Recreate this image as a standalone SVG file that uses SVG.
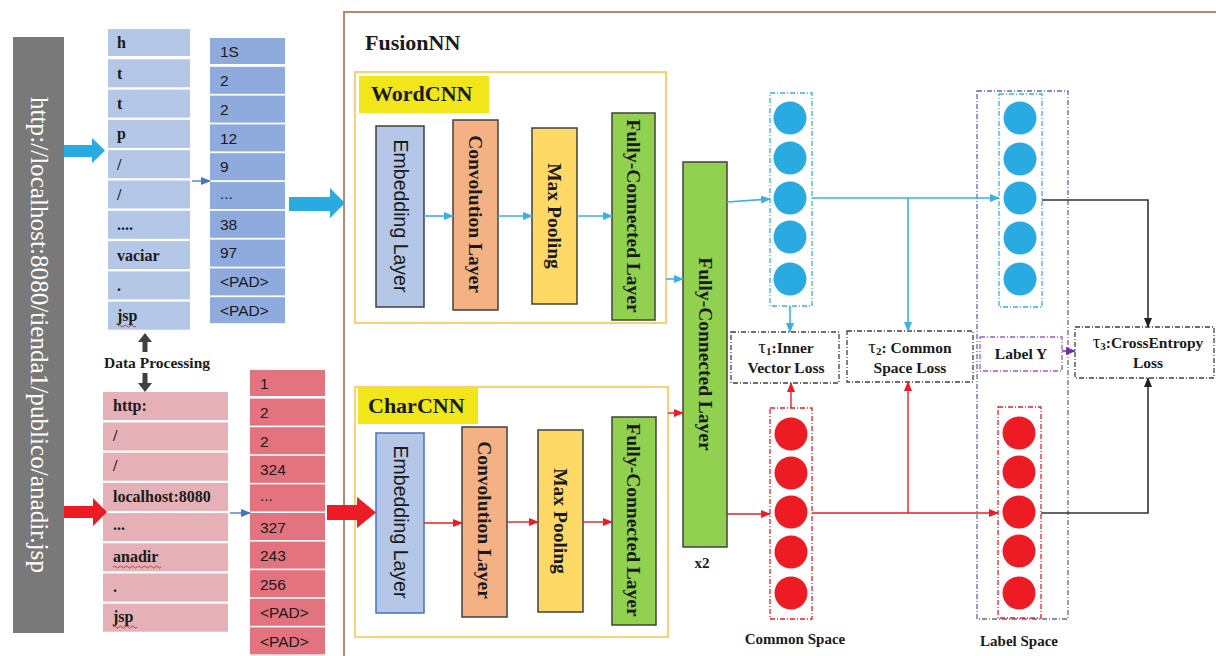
<svg xmlns="http://www.w3.org/2000/svg" width="1216" height="656" viewBox="0 0 1216 656">
<style>
.ser{font-family:"Liberation Serif","Times New Roman",serif;font-weight:bold;fill:#1a1a1a}
.san{font-family:"Liberation Sans",Arial,sans-serif;fill:#1a1a1a}
.tok{font-size:16px}
.num{font-size:15.5px}
.lay{font-size:19.5px}
.tb{fill:#b4c7e7}
.nb{fill:#8faadc}
.tp{fill:#e5b0b6}
.np{fill:#e2737f}
.layer{stroke:#404040;stroke-width:1.5}
.dd{fill:none;stroke-dasharray:5 2 1 2;stroke-width:1.3}
.loss{font-size:15.5px}
.tau{font-size:19px;font-weight:normal}
.lb{stroke:#3cb0e4;stroke-width:1.6;fill:none}
.lr{stroke:#ed1c24;stroke-width:1.4;fill:none}
.lk{stroke:#333;stroke-width:1.6;fill:none}
.sq{stroke:#e02020;stroke-width:0.9;fill:none}
</style>
<defs>
<marker id="ab" markerWidth="10" markerHeight="8" refX="9" refY="4" orient="auto" markerUnits="userSpaceOnUse"><path d="M0,0 L10,4 L0,8 z" fill="#3cb0e4"/></marker>
<marker id="ar" markerWidth="10" markerHeight="8" refX="9" refY="4" orient="auto" markerUnits="userSpaceOnUse"><path d="M0,0 L10,4 L0,8 z" fill="#ed1c24"/></marker>
<marker id="ak" markerWidth="10" markerHeight="8" refX="9" refY="4" orient="auto" markerUnits="userSpaceOnUse"><path d="M0,0 L10,4 L0,8 z" fill="#222"/></marker>
<marker id="ap" markerWidth="10" markerHeight="8" refX="9" refY="4" orient="auto" markerUnits="userSpaceOnUse"><path d="M0,0 L10,4 L0,8 z" fill="#7030a0"/></marker>
<marker id="ad" markerWidth="10" markerHeight="8" refX="9" refY="4" orient="auto" markerUnits="userSpaceOnUse"><path d="M0,0 L10,4 L0,8 z" fill="#4472c4"/></marker>
</defs>

<!-- URL bar -->
<g id="url">
<rect x="13" y="37" width="51" height="596" fill="#797979"/>
<text transform="translate(31,335) rotate(90)" text-anchor="middle" font-family="Liberation Serif,serif" font-size="25" fill="#ffffff" textLength="476" lengthAdjust="spacingAndGlyphs">http://localhost:8080/tienda1/publico/anadir.jsp</text>
</g>

<!-- FusionNN frame -->
<g id="fusion">
<path d="M344,656 L344,12 L1216,12" fill="none" stroke="#b88a76" stroke-width="2"/>
<text class="ser" x="365" y="50" font-size="22">FusionNN</text>
</g>

<!-- Word tokens -->
<g id="word-tokens">
<rect class="tb" x="108" y="29" width="82" height="27"/>
<rect class="tb" x="108" y="59.3" width="82" height="28"/>
<rect class="tb" x="108" y="89.6" width="82" height="28"/>
<rect class="tb" x="108" y="119.9" width="82" height="28"/>
<rect class="tb" x="108" y="150.2" width="82" height="28"/>
<rect class="tb" x="108" y="180.5" width="82" height="28"/>
<rect class="tb" x="108" y="210.8" width="82" height="28"/>
<rect class="tb" x="108" y="241.1" width="82" height="28"/>
<rect class="tb" x="108" y="271.4" width="82" height="28"/>
<rect class="tb" x="108" y="301.7" width="82" height="28"/>
<g class="ser tok">
<text x="117" y="48">h</text>
<text x="117" y="79">t</text>
<text x="117" y="109">t</text>
<text x="117" y="139">p</text>
<text x="117" y="170">/</text>
<text x="117" y="200">/</text>
<text x="117" y="230">....</text>
<text x="117" y="261">vaciar</text>
<text x="117" y="291">.</text>
<text x="117" y="321">jsp</text>
</g>
<path class="sq" d="M118,326 q1.5,-2 3,0 t3,0 t3,0 t3,0 t3,0 t3,0"/>
</g>

<!-- Word numbers -->
<g id="word-ids">
<rect class="nb" x="210" y="38" width="75" height="26"/>
<rect class="nb" x="210" y="66.8" width="75" height="27"/>
<rect class="nb" x="210" y="95.6" width="75" height="27"/>
<rect class="nb" x="210" y="124.4" width="75" height="27"/>
<rect class="nb" x="210" y="153.2" width="75" height="27"/>
<rect class="nb" x="210" y="182" width="75" height="27"/>
<rect class="nb" x="210" y="210.8" width="75" height="27"/>
<rect class="nb" x="210" y="239.6" width="75" height="27"/>
<rect class="nb" x="210" y="268.4" width="75" height="27"/>
<rect class="nb" x="210" y="297.2" width="75" height="26"/>
<g class="san num">
<text x="220" y="57">1S</text>
<text x="220" y="86">2</text>
<text x="220" y="115">2</text>
<text x="220" y="144">12</text>
<text x="220" y="172">9</text>
<text x="220" y="199">...</text>
<text x="220" y="230">38</text>
<text x="220" y="258">97</text>
<text x="220" y="287">&lt;PAD&gt;</text>
<text x="220" y="316">&lt;PAD&gt;</text>
</g>
</g>

<!-- Char tokens -->
<g id="char-tokens">
<rect class="tp" x="103" y="392" width="125" height="28"/>
<rect class="tp" x="103" y="422.5" width="125" height="28"/>
<rect class="tp" x="103" y="452.7" width="125" height="28"/>
<rect class="tp" x="103" y="482.9" width="125" height="28"/>
<rect class="tp" x="103" y="513.1" width="125" height="28"/>
<rect class="tp" x="103" y="543.3" width="125" height="28"/>
<rect class="tp" x="103" y="573.5" width="125" height="28"/>
<rect class="tp" x="103" y="603.7" width="125" height="28"/>
<g class="ser tok">
<text x="113" y="411">http:</text>
<text x="113" y="441">/</text>
<text x="113" y="471">/</text>
<text x="113" y="502">localhost:8080</text>
<text x="113" y="530">...</text>
<text x="113" y="562">anadir</text>
<text x="113" y="592">.</text>
<text x="113" y="622">jsp</text>
</g>
<path class="sq" d="M113,567 q1.5,-2 3,0 t3,0 t3,0 t3,0 t3,0 t3,0 t3,0 t3,0 t3,0 t3,0 t3,0 t3,0 t3,0 t3,0 t3,0 t3,0"/>
<path class="sq" d="M113,627 q1.5,-2 3,0 t3,0 t3,0 t3,0 t3,0 t3,0 t3,0 t3,0"/>
</g>

<!-- Char numbers -->
<g id="char-ids">
<rect class="np" x="250" y="370" width="75" height="26"/>
<rect class="np" x="250" y="398.6" width="75" height="27"/>
<rect class="np" x="250" y="427.2" width="75" height="27"/>
<rect class="np" x="250" y="455.8" width="75" height="27"/>
<rect class="np" x="250" y="484.4" width="75" height="27"/>
<rect class="np" x="250" y="513" width="75" height="27"/>
<rect class="np" x="250" y="541.6" width="75" height="27"/>
<rect class="np" x="250" y="570.2" width="75" height="27"/>
<rect class="np" x="250" y="598.8" width="75" height="27"/>
<rect class="np" x="250" y="627.4" width="75" height="27"/>
<g class="san num">
<text x="260" y="389">1</text>
<text x="260" y="418">2</text>
<text x="260" y="447">2</text>
<text x="260" y="475">324</text>
<text x="260" y="501">...</text>
<text x="260" y="533">327</text>
<text x="260" y="561">243</text>
<text x="260" y="590">256</text>
<text x="260" y="618">&lt;PAD&gt;</text>
<text x="260" y="647">&lt;PAD&gt;</text>
</g>
</g>

<!-- Data processing -->
<g id="data-processing">
<text class="ser" x="157" y="368" font-size="15.5" text-anchor="middle">Data Processing</text>
<path d="M145,333 L152,342 L147.5,342 L147.5,352 L142.5,352 L142.5,342 L138,342 Z" fill="#404040"/>
<path d="M145,392 L152,383 L147.5,383 L147.5,373 L142.5,373 L142.5,383 L138,383 Z" fill="#404040"/>
</g>

<!-- WordCNN -->
<g id="wordcnn">
<rect x="355" y="72" width="311" height="251" fill="none" stroke="#fbcf74" stroke-width="2"/>
<rect x="359" y="76" width="130" height="37" fill="#f0e619"/>
<text class="ser" x="371" y="101" font-size="22">WordCNN</text>
<rect class="layer" x="376" y="126" width="48" height="181" fill="#b4c7e7"/>
<rect class="layer" x="453" y="120" width="45" height="190" fill="#f4b183"/>
<rect class="layer" x="532" y="128" width="45" height="176" fill="#ffd966"/>
<rect class="layer" x="612" y="113" width="43" height="207" fill="#92d050"/>
<text class="san lay" transform="translate(394,216) rotate(90)" text-anchor="middle">Embedding Layer</text>
<text class="ser lay" transform="translate(469,214) rotate(90)" text-anchor="middle">Convolution Layer</text>
<text class="ser lay" transform="translate(548,216) rotate(90)" text-anchor="middle">Max Pooling</text>
<text class="ser lay" transform="translate(627,216) rotate(90)" text-anchor="middle">Fully-Connected Layer</text>
</g>

<!-- CharCNN -->
<g id="charcnn">
<rect x="355" y="387" width="313" height="250" fill="none" stroke="#fbcf74" stroke-width="2"/>
<rect x="358" y="388" width="120" height="36" fill="#f0e619"/>
<text class="ser" x="368" y="413" font-size="22">CharCNN</text>
<rect x="376" y="433" width="48" height="180" fill="#b4c7e7" stroke="#4472c4" stroke-width="1.5"/>
<rect class="layer" x="462" y="427" width="45" height="190" fill="#f4b183"/>
<rect class="layer" x="538" y="430" width="45" height="182" fill="#ffd966"/>
<rect class="layer" x="612" y="417" width="44" height="208" fill="#92d050"/>
<text class="san lay" transform="translate(394,522) rotate(90)" text-anchor="middle">Embedding Layer</text>
<text class="ser lay" transform="translate(478,520) rotate(90)" text-anchor="middle">Convolution Layer</text>
<text class="ser lay" transform="translate(554,521) rotate(90)" text-anchor="middle">Max Pooling</text>
<text class="ser lay" transform="translate(627,520) rotate(90)" text-anchor="middle">Fully-Connected Layer</text>
</g>

<!-- Shared FC -->
<g id="shared-fc">
<rect class="layer" x="683" y="162" width="44" height="385" fill="#92d050"/>
<text class="ser lay" transform="translate(699,354) rotate(90)" text-anchor="middle">Fully-Connected Layer</text>
<text class="ser" x="702" y="568" font-size="15" text-anchor="middle">x2</text>
</g>

<!-- Common space -->
<g id="common-word">
<rect class="dd" x="770" y="93" width="42" height="213" stroke="#3cb0e4"/>
<g fill="#29abe2">
<circle cx="790" cy="118" r="16.5"/><circle cx="790" cy="158" r="16.5"/><circle cx="790" cy="198" r="16.5"/><circle cx="790" cy="237" r="16.5"/><circle cx="790" cy="279" r="16.5"/>
</g>
</g>
<g id="common-char">
<rect class="dd" x="770" y="408" width="42" height="211" stroke="#ed1c24"/>
<g fill="#ed1c24">
<circle cx="791" cy="434" r="16.5"/><circle cx="791" cy="473" r="16.5"/><circle cx="791" cy="512" r="16.5"/><circle cx="791" cy="552" r="16.5"/><circle cx="791" cy="593" r="16.5"/>
</g>
<text class="ser" x="795" y="644" font-size="15" text-anchor="middle">Common Space</text>
</g>

<!-- Label space -->
<g id="label-space">
<rect class="dd" x="977" y="91" width="91" height="528" stroke="#5b6bb0"/>
<rect class="dd" x="999" y="94" width="43" height="213" stroke="#3cb0e4"/>
<g fill="#29abe2">
<circle cx="1020" cy="118" r="16.5"/><circle cx="1020" cy="159" r="16.5"/><circle cx="1020" cy="198" r="16.5"/><circle cx="1020" cy="238" r="16.5"/><circle cx="1020" cy="279" r="16.5"/>
</g>
<rect class="dd" x="998" y="407" width="43" height="211" stroke="#ed1c24"/>
<g fill="#ed1c24">
<circle cx="1019" cy="433" r="16.5"/><circle cx="1019" cy="472" r="16.5"/><circle cx="1019" cy="512" r="16.5"/><circle cx="1019" cy="551" r="16.5"/><circle cx="1019" cy="593" r="16.5"/>
</g>
<text class="ser" x="1019" y="646" font-size="15" text-anchor="middle">Label Space</text>
</g>

<g id="label-y">
<rect class="dd" x="980" y="337" width="82" height="34" stroke="#9a5cc6"/>
<text class="ser loss" x="1021" y="359" text-anchor="middle">Label Y</text>
</g>

<!-- Losses -->
<g id="loss1">
<rect class="dd" x="731" y="332" width="108" height="51" stroke="#404040"/>
<text class="ser loss" x="786" y="353" text-anchor="middle"><tspan class="tau">τ</tspan><tspan font-size="11" dy="2">1</tspan><tspan dy="-2">:Inner</tspan></text>
<text class="ser loss" x="786" y="373" text-anchor="middle">Vector Loss</text>
</g>
<g id="loss2">
<rect class="dd" x="847" y="331" width="126" height="51" stroke="#404040"/>
<text class="ser loss" x="910" y="353" text-anchor="middle"><tspan class="tau">τ</tspan><tspan font-size="11" dy="2">2</tspan><tspan dy="-2">: Common</tspan></text>
<text class="ser loss" x="910" y="373" text-anchor="middle">Space Loss</text>
</g>
<g id="loss3">
<rect class="dd" x="1075" y="327" width="139" height="51" stroke="#404040"/>
<text class="ser loss" x="1148" y="348" text-anchor="middle"><tspan class="tau">τ</tspan><tspan font-size="11" dy="2">3</tspan><tspan dy="-2">:CrossEntropy</tspan></text>
<text class="ser loss" x="1148" y="368" text-anchor="middle">Loss</text>
</g>

<!-- Connectors -->
<g id="connectors">
<polygon points="64,145 92,145 92,138 105,150.5 92,163 92,157 64,157" fill="#29abe2"/>
<polygon points="289,197 330,197 330,188 345,203 330,218 330,211 289,211" fill="#29abe2"/>
<polygon points="64,506 93,506 93,498 107,512 93,526 93,518 64,518" fill="#ed1c24"/>
<polygon points="327,505 357,505 357,497 376,512.5 357,528 357,520 327,520" fill="#ed1c24"/>
<line x1="192" y1="181" x2="210" y2="181" stroke="#4472c4" stroke-width="1.3" marker-end="url(#ad)"/>
<line x1="230" y1="513" x2="250" y2="513" stroke="#4472c4" stroke-width="1.3" marker-end="url(#ad)"/>

<line class="lb" x1="424" y1="216" x2="453" y2="216" marker-end="url(#ab)"/>
<line class="lb" x1="498" y1="216" x2="532" y2="216" marker-end="url(#ab)"/>
<line class="lb" x1="577" y1="216" x2="612" y2="216" marker-end="url(#ab)"/>
<line class="lr" x1="424" y1="523" x2="462" y2="523" marker-end="url(#ar)"/>
<line class="lr" x1="507" y1="522" x2="538" y2="522" marker-end="url(#ar)"/>
<line class="lr" x1="583" y1="522" x2="612" y2="522" marker-end="url(#ar)"/>

<line class="lb" x1="666" y1="279" x2="683" y2="279" marker-end="url(#ab)"/>
<line class="lr" x1="668" y1="413" x2="683" y2="413" marker-end="url(#ar)"/>

<path class="lb" d="M727,202 L770,199" marker-end="url(#ab)"/>
<path class="lr" d="M727,514 L770,514" marker-end="url(#ar)"/>

<path class="lb" d="M812,198 L999,198" marker-end="url(#ab)"/>
<path class="lb" d="M908,198 L908,331" marker-end="url(#ab)"/>
<path class="lb" d="M790,306 L790,332" marker-end="url(#ab)"/>

<path class="lr" d="M812,513 L998,513" marker-end="url(#ar)"/>
<path class="lr" d="M908,513 L908,382" marker-end="url(#ar)"/>
<path class="lr" d="M791,408 L791,383" marker-end="url(#ar)"/>

<path class="lk" d="M1042,200 L1148,200 L1148,327" marker-end="url(#ak)"/>
<path class="lk" d="M1041,513 L1148,513 L1148,378" marker-end="url(#ak)"/>
<line x1="1062" y1="351" x2="1075" y2="351" stroke="#7030a0" stroke-width="1.5" marker-end="url(#ap)"/>
</g>
</svg>
